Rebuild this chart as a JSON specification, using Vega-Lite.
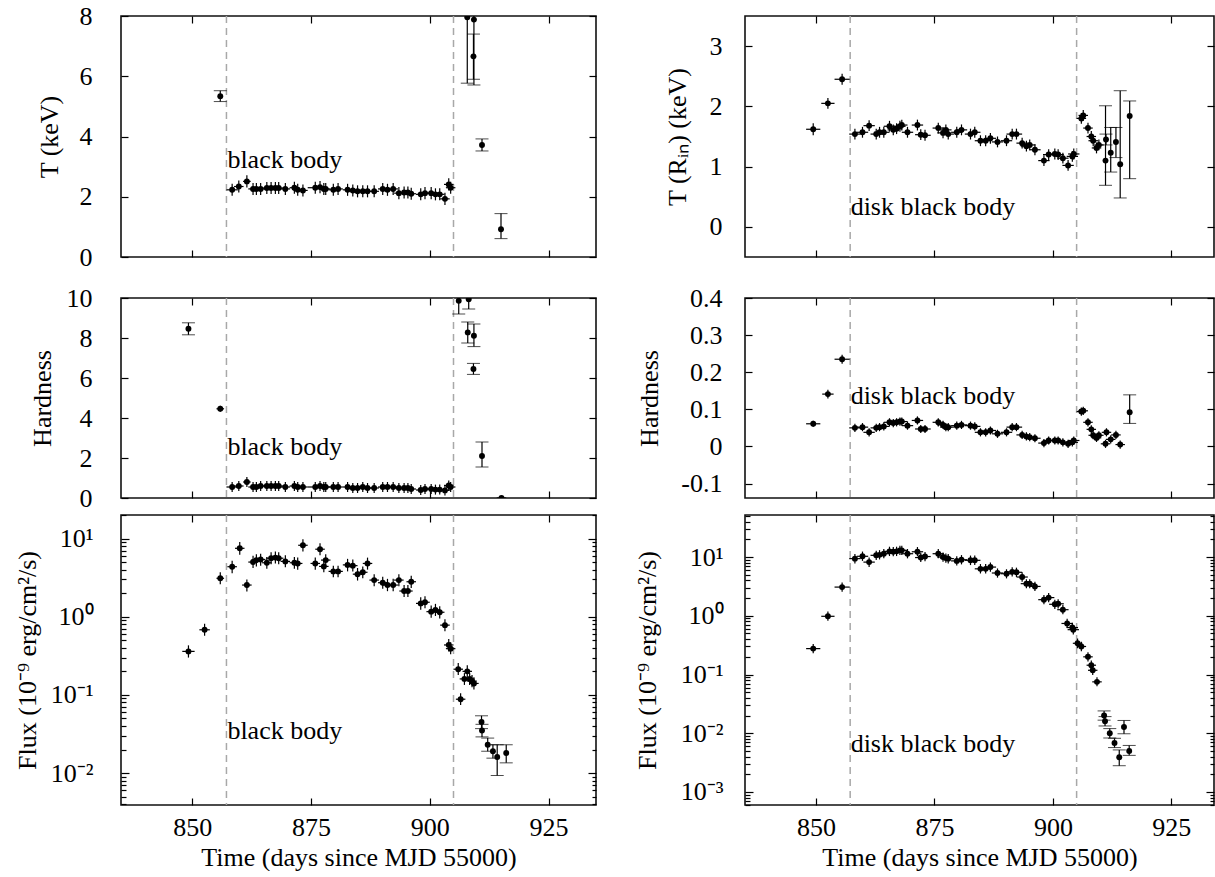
{
"$schema":"https://vega.github.io/schema/vega-lite/v6.json",
"padding":{"left":13,"top":2,"right":0,"bottom":0},
"config":{"font":"Liberation Serif","view":{"stroke":"#111","strokeWidth":1.6},
"axis":{"labelFont":"Liberation Serif","labelFontSize":26,"labelColor":"#000","titleFont":"Liberation Serif","titleFontSize":26,"titleFontWeight":"normal","titleColor":"#000","tickColor":"#000","tickWidth":1.2,"domain":false,"grid":false,"labelFlush":false,"labelOverlap":false},
"text":{"font":"Liberation Serif"}},
"datasets":{
"lt":[
{"t":855.9,"v":5.34,"lo":5.16,"hi":5.52,"dt":0,"c":1},
{"t":858.4,"v":2.23,"lo":2.03,"hi":2.43,"dt":1.2},
{"t":859.8,"v":2.34,"lo":2.14,"hi":2.54,"dt":1.0},
{"t":861.5,"v":2.51,"lo":2.31,"hi":2.71,"dt":0.8},
{"t":862.8,"v":2.26,"lo":2.06,"hi":2.46,"dt":1.0},
{"t":863.5,"v":2.26,"lo":2.06,"hi":2.46,"dt":1.0},
{"t":864.4,"v":2.26,"lo":2.06,"hi":2.46,"dt":1.0},
{"t":865.7,"v":2.29,"lo":2.09,"hi":2.49,"dt":1.0},
{"t":866.6,"v":2.29,"lo":2.09,"hi":2.49,"dt":1.0},
{"t":867.5,"v":2.29,"lo":2.09,"hi":2.49,"dt":1.0},
{"t":868.2,"v":2.29,"lo":2.09,"hi":2.49,"dt":1.0},
{"t":869.6,"v":2.26,"lo":2.06,"hi":2.46,"dt":1.0},
{"t":871.5,"v":2.30,"lo":2.10,"hi":2.50,"dt":1.0},
{"t":872.2,"v":2.23,"lo":2.03,"hi":2.43,"dt":1.0},
{"t":873.3,"v":2.21,"lo":2.01,"hi":2.41,"dt":1.0},
{"t":875.9,"v":2.30,"lo":2.10,"hi":2.50,"dt":1.6},
{"t":876.9,"v":2.32,"lo":2.12,"hi":2.52,"dt":1.0},
{"t":877.7,"v":2.26,"lo":2.06,"hi":2.46,"dt":1.0},
{"t":878.1,"v":2.26,"lo":2.06,"hi":2.46,"dt":1.0},
{"t":879.7,"v":2.23,"lo":2.03,"hi":2.43,"dt":1.0},
{"t":880.7,"v":2.26,"lo":2.06,"hi":2.46,"dt":1.0},
{"t":882.7,"v":2.23,"lo":2.03,"hi":2.43,"dt":1.0},
{"t":883.8,"v":2.21,"lo":2.01,"hi":2.41,"dt":1.0},
{"t":884.8,"v":2.18,"lo":1.98,"hi":2.38,"dt":1.0},
{"t":885.9,"v":2.18,"lo":1.98,"hi":2.38,"dt":1.0},
{"t":886.9,"v":2.18,"lo":1.98,"hi":2.38,"dt":1.0},
{"t":888.3,"v":2.18,"lo":1.98,"hi":2.38,"dt":1.0},
{"t":890.1,"v":2.26,"lo":2.06,"hi":2.46,"dt":1.0},
{"t":891.1,"v":2.23,"lo":2.03,"hi":2.43,"dt":1.0},
{"t":892.3,"v":2.26,"lo":2.06,"hi":2.46,"dt":1.0},
{"t":893.5,"v":2.12,"lo":1.92,"hi":2.32,"dt":1.0},
{"t":894.6,"v":2.14,"lo":1.94,"hi":2.34,"dt":1.0},
{"t":895.4,"v":2.14,"lo":1.94,"hi":2.34,"dt":1.0},
{"t":896.1,"v":2.10,"lo":1.90,"hi":2.30,"dt":1.0},
{"t":898.1,"v":2.08,"lo":1.88,"hi":2.28,"dt":1.0},
{"t":899.0,"v":2.12,"lo":1.92,"hi":2.32,"dt":1.0},
{"t":900.3,"v":2.12,"lo":1.92,"hi":2.32,"dt":1.0},
{"t":901.2,"v":2.08,"lo":1.88,"hi":2.28,"dt":1.0},
{"t":902.1,"v":2.08,"lo":1.88,"hi":2.28,"dt":1.0},
{"t":903.2,"v":1.93,"lo":1.73,"hi":2.13,"dt":1.0},
{"t":904.0,"v":2.41,"lo":2.21,"hi":2.61,"dt":1.0},
{"t":904.4,"v":2.30,"lo":2.10,"hi":2.50,"dt":1.0},
{"t":907.9,"v":7.96,"lo":5.77,"hi":10.1,"dt":0,"c":1},
{"t":909.2,"v":6.66,"lo":5.9,"hi":7.4,"dt":0,"c":1},
{"t":909.3,"v":7.88,"lo":5.71,"hi":10.0,"dt":0,"c":1},
{"t":911.0,"v":3.72,"lo":3.52,"hi":3.92,"dt":0,"c":1},
{"t":915.0,"v":0.92,"lo":0.61,"hi":1.44,"dt":0,"c":1}
],
"lh":[
{"t":849.2,"v":8.46,"lo":8.16,"hi":8.76,"dt":0,"c":1},
{"t":855.9,"v":4.46,"lo":4.31,"hi":4.61,"dt":0.8},
{"t":858.4,"v":0.55,"lo":0.3,"hi":0.8,"dt":1.2},
{"t":859.8,"v":0.6,"lo":0.35,"hi":0.85,"dt":1.0},
{"t":861.5,"v":0.8,"lo":0.55,"hi":1.05,"dt":0.8},
{"t":862.8,"v":0.55,"lo":0.3,"hi":0.8,"dt":1.0},
{"t":863.5,"v":0.55,"lo":0.3,"hi":0.8,"dt":1.0},
{"t":864.4,"v":0.6,"lo":0.35,"hi":0.85,"dt":1.0},
{"t":865.7,"v":0.6,"lo":0.35,"hi":0.85,"dt":1.0},
{"t":866.6,"v":0.6,"lo":0.35,"hi":0.85,"dt":1.0},
{"t":867.5,"v":0.6,"lo":0.35,"hi":0.85,"dt":1.0},
{"t":868.2,"v":0.6,"lo":0.35,"hi":0.85,"dt":1.0},
{"t":869.6,"v":0.55,"lo":0.3,"hi":0.8,"dt":1.0},
{"t":871.5,"v":0.6,"lo":0.35,"hi":0.85,"dt":1.0},
{"t":872.2,"v":0.55,"lo":0.3,"hi":0.8,"dt":1.0},
{"t":873.3,"v":0.55,"lo":0.3,"hi":0.8,"dt":1.0},
{"t":875.9,"v":0.55,"lo":0.3,"hi":0.8,"dt":1.6},
{"t":876.9,"v":0.6,"lo":0.35,"hi":0.85,"dt":1.0},
{"t":877.7,"v":0.55,"lo":0.3,"hi":0.8,"dt":1.0},
{"t":878.1,"v":0.55,"lo":0.3,"hi":0.8,"dt":1.0},
{"t":879.7,"v":0.55,"lo":0.3,"hi":0.8,"dt":1.0},
{"t":880.7,"v":0.55,"lo":0.3,"hi":0.8,"dt":1.0},
{"t":882.7,"v":0.55,"lo":0.3,"hi":0.8,"dt":1.0},
{"t":883.8,"v":0.5,"lo":0.25,"hi":0.75,"dt":1.0},
{"t":884.8,"v":0.5,"lo":0.25,"hi":0.75,"dt":1.0},
{"t":885.9,"v":0.55,"lo":0.3,"hi":0.8,"dt":1.0},
{"t":886.9,"v":0.5,"lo":0.25,"hi":0.75,"dt":1.0},
{"t":888.3,"v":0.5,"lo":0.25,"hi":0.75,"dt":1.0},
{"t":890.1,"v":0.55,"lo":0.3,"hi":0.8,"dt":1.0},
{"t":891.1,"v":0.55,"lo":0.3,"hi":0.8,"dt":1.0},
{"t":892.3,"v":0.55,"lo":0.3,"hi":0.8,"dt":1.0},
{"t":893.5,"v":0.5,"lo":0.25,"hi":0.75,"dt":1.0},
{"t":894.6,"v":0.5,"lo":0.25,"hi":0.75,"dt":1.0},
{"t":895.4,"v":0.5,"lo":0.25,"hi":0.75,"dt":1.0},
{"t":896.1,"v":0.45,"lo":0.2,"hi":0.7,"dt":1.0},
{"t":898.1,"v":0.4,"lo":0.15,"hi":0.65,"dt":1.0},
{"t":899.0,"v":0.45,"lo":0.2,"hi":0.7,"dt":1.0},
{"t":900.3,"v":0.45,"lo":0.2,"hi":0.7,"dt":1.0},
{"t":901.2,"v":0.42,"lo":0.17,"hi":0.67,"dt":1.0},
{"t":902.1,"v":0.42,"lo":0.17,"hi":0.67,"dt":1.0},
{"t":903.2,"v":0.38,"lo":0.13,"hi":0.63,"dt":1.0},
{"t":904.0,"v":0.63,"lo":0.38,"hi":0.88,"dt":1.0},
{"t":904.4,"v":0.55,"lo":0.3,"hi":0.8,"dt":1.0},
{"t":906.1,"v":9.86,"lo":9.2,"hi":10.5,"dt":0,"c":1},
{"t":908.0,"v":8.28,"lo":7.75,"hi":8.8,"dt":0,"c":1},
{"t":908.2,"v":9.94,"lo":9.45,"hi":10.4,"dt":0,"c":1},
{"t":909.2,"v":6.45,"lo":6.18,"hi":6.73,"dt":0,"c":1},
{"t":909.3,"v":8.11,"lo":7.57,"hi":8.7,"dt":0,"c":1},
{"t":911.0,"v":2.1,"lo":1.55,"hi":2.8,"dt":0,"c":1},
{"t":915.1,"v":0.0,"lo":-0.1,"hi":0.1,"dt":1.0}
],
"lf":[
{"t":849.2,"v":0.36,"lo":0.30,"hi":0.43,"dt":1.3},
{"t":852.6,"v":0.68,"lo":0.57,"hi":0.81,"dt":1.1},
{"t":855.9,"v":3.1,"lo":2.6,"hi":3.7,"dt":0.8},
{"t":858.4,"v":4.36,"lo":3.6,"hi":5.2,"dt":1.0},
{"t":860.0,"v":7.5,"lo":6.2,"hi":9.0,"dt":1.0},
{"t":861.5,"v":2.54,"lo":2.1,"hi":3.0,"dt":1.0},
{"t":862.8,"v":5.0,"lo":4.2,"hi":6.0,"dt":1.0},
{"t":863.5,"v":5.3,"lo":4.4,"hi":6.3,"dt":1.0},
{"t":864.4,"v":5.4,"lo":4.5,"hi":6.4,"dt":1.0},
{"t":865.7,"v":4.9,"lo":4.1,"hi":5.8,"dt":1.0},
{"t":866.6,"v":5.6,"lo":4.7,"hi":6.7,"dt":1.0},
{"t":867.5,"v":5.7,"lo":4.8,"hi":6.8,"dt":1.0},
{"t":868.2,"v":5.6,"lo":4.7,"hi":6.7,"dt":1.0},
{"t":869.6,"v":5.1,"lo":4.3,"hi":6.1,"dt":1.0},
{"t":871.5,"v":4.9,"lo":4.1,"hi":5.8,"dt":1.0},
{"t":872.2,"v":4.8,"lo":4.0,"hi":5.7,"dt":1.0},
{"t":873.3,"v":8.2,"lo":6.8,"hi":9.8,"dt":1.0},
{"t":875.9,"v":4.8,"lo":4.0,"hi":5.7,"dt":1.0},
{"t":876.9,"v":7.3,"lo":6.1,"hi":8.7,"dt":1.0},
{"t":877.7,"v":4.4,"lo":3.7,"hi":5.3,"dt":1.0},
{"t":878.1,"v":5.3,"lo":4.4,"hi":6.3,"dt":1.0},
{"t":879.7,"v":3.8,"lo":3.2,"hi":4.5,"dt":1.0},
{"t":880.7,"v":3.8,"lo":3.2,"hi":4.5,"dt":1.0},
{"t":882.7,"v":4.6,"lo":3.8,"hi":5.5,"dt":1.0},
{"t":883.8,"v":4.5,"lo":3.8,"hi":5.4,"dt":1.0},
{"t":884.8,"v":3.5,"lo":2.9,"hi":4.2,"dt":1.0},
{"t":885.9,"v":3.7,"lo":3.1,"hi":4.4,"dt":1.0},
{"t":886.9,"v":4.8,"lo":4.0,"hi":5.7,"dt":1.0},
{"t":888.3,"v":2.94,"lo":2.45,"hi":3.5,"dt":1.0},
{"t":890.1,"v":2.72,"lo":2.27,"hi":3.25,"dt":1.0},
{"t":891.1,"v":2.54,"lo":2.12,"hi":3.05,"dt":1.0},
{"t":892.3,"v":2.54,"lo":2.12,"hi":3.05,"dt":1.0},
{"t":893.5,"v":2.94,"lo":2.45,"hi":3.5,"dt":1.0},
{"t":894.6,"v":2.13,"lo":1.78,"hi":2.55,"dt":1.0},
{"t":895.4,"v":2.13,"lo":1.78,"hi":2.55,"dt":1.0},
{"t":896.1,"v":2.8,"lo":2.33,"hi":3.35,"dt":1.0},
{"t":898.1,"v":1.48,"lo":1.23,"hi":1.77,"dt":1.0},
{"t":899.0,"v":1.53,"lo":1.28,"hi":1.83,"dt":1.0},
{"t":900.3,"v":1.16,"lo":0.97,"hi":1.39,"dt":1.0},
{"t":901.2,"v":1.22,"lo":1.02,"hi":1.46,"dt":1.0},
{"t":902.1,"v":1.14,"lo":0.95,"hi":1.36,"dt":1.0},
{"t":903.2,"v":0.78,"lo":0.65,"hi":0.93,"dt":1.0},
{"t":904.0,"v":0.435,"lo":0.36,"hi":0.52,"dt":1.0},
{"t":904.4,"v":0.39,"lo":0.33,"hi":0.47,"dt":1.0},
{"t":906.0,"v":0.213,"lo":0.18,"hi":0.255,"dt":1.0},
{"t":906.5,"v":0.088,"lo":0.074,"hi":0.105,"dt":1.0},
{"t":907.3,"v":0.16,"lo":0.134,"hi":0.19,"dt":1.0},
{"t":907.9,"v":0.2,"lo":0.167,"hi":0.24,"dt":1.0},
{"t":908.4,"v":0.16,"lo":0.134,"hi":0.19,"dt":1.0},
{"t":908.9,"v":0.15,"lo":0.125,"hi":0.18,"dt":1.0},
{"t":909.3,"v":0.14,"lo":0.117,"hi":0.168,"dt":1.0},
{"t":910.9,"v":0.045,"lo":0.037,"hi":0.054,"dt":0,"c":1},
{"t":911.0,"v":0.035,"lo":0.029,"hi":0.042,"dt":0,"c":1},
{"t":912.2,"v":0.023,"lo":0.019,"hi":0.028,"dt":0,"c":1},
{"t":913.3,"v":0.019,"lo":0.0155,"hi":0.023,"dt":0,"c":1},
{"t":914.2,"v":0.016,"lo":0.0093,"hi":0.023,"dt":0,"c":1},
{"t":916.1,"v":0.018,"lo":0.0135,"hi":0.023,"dt":0,"c":1}
],
"rt":[
{"t":849.4,"v":1.62,"lo":1.52,"hi":1.72,"dt":1.5},
{"t":852.5,"v":2.05,"lo":1.96,"hi":2.14,"dt":1.4},
{"t":855.5,"v":2.45,"lo":2.36,"hi":2.54,"dt":1.6},
{"t":858.2,"v":1.54,"lo":1.45,"hi":1.63,"dt":1.2},
{"t":859.8,"v":1.57,"lo":1.48,"hi":1.66,"dt":1.2},
{"t":861.2,"v":1.68,"lo":1.59,"hi":1.77,"dt":1.2},
{"t":862.7,"v":1.54,"lo":1.45,"hi":1.63,"dt":1.2},
{"t":863.4,"v":1.57,"lo":1.48,"hi":1.66,"dt":1.2},
{"t":864.3,"v":1.57,"lo":1.48,"hi":1.66,"dt":1.2},
{"t":865.5,"v":1.67,"lo":1.58,"hi":1.76,"dt":1.2},
{"t":866.3,"v":1.61,"lo":1.52,"hi":1.70,"dt":1.2},
{"t":867.0,"v":1.63,"lo":1.54,"hi":1.72,"dt":1.2},
{"t":867.7,"v":1.67,"lo":1.58,"hi":1.76,"dt":1.2},
{"t":868.1,"v":1.69,"lo":1.60,"hi":1.78,"dt":1.2},
{"t":869.3,"v":1.57,"lo":1.48,"hi":1.66,"dt":1.2},
{"t":871.4,"v":1.69,"lo":1.60,"hi":1.78,"dt":1.2},
{"t":872.1,"v":1.53,"lo":1.44,"hi":1.62,"dt":1.2},
{"t":873.0,"v":1.52,"lo":1.43,"hi":1.61,"dt":1.2},
{"t":875.8,"v":1.64,"lo":1.55,"hi":1.73,"dt":1.2},
{"t":876.8,"v":1.56,"lo":1.47,"hi":1.65,"dt":1.2},
{"t":877.4,"v":1.61,"lo":1.52,"hi":1.70,"dt":1.2},
{"t":877.9,"v":1.54,"lo":1.45,"hi":1.63,"dt":1.2},
{"t":879.7,"v":1.57,"lo":1.48,"hi":1.66,"dt":1.2},
{"t":880.7,"v":1.61,"lo":1.52,"hi":1.70,"dt":1.2},
{"t":882.6,"v":1.54,"lo":1.45,"hi":1.63,"dt":1.2},
{"t":883.5,"v":1.57,"lo":1.48,"hi":1.66,"dt":1.2},
{"t":884.7,"v":1.43,"lo":1.34,"hi":1.52,"dt":1.2},
{"t":885.8,"v":1.43,"lo":1.34,"hi":1.52,"dt":1.2},
{"t":886.8,"v":1.47,"lo":1.38,"hi":1.56,"dt":1.2},
{"t":888.3,"v":1.41,"lo":1.32,"hi":1.50,"dt":1.2},
{"t":890.2,"v":1.43,"lo":1.34,"hi":1.52,"dt":1.2},
{"t":891.4,"v":1.54,"lo":1.45,"hi":1.63,"dt":1.2},
{"t":892.3,"v":1.54,"lo":1.45,"hi":1.63,"dt":1.2},
{"t":893.5,"v":1.39,"lo":1.30,"hi":1.48,"dt":1.2},
{"t":894.4,"v":1.34,"lo":1.25,"hi":1.43,"dt":1.2},
{"t":895.1,"v":1.36,"lo":1.27,"hi":1.45,"dt":1.2},
{"t":896.2,"v":1.28,"lo":1.19,"hi":1.37,"dt":1.2},
{"t":898.1,"v":1.10,"lo":1.01,"hi":1.19,"dt":1.2},
{"t":899.1,"v":1.20,"lo":1.11,"hi":1.29,"dt":1.2},
{"t":900.4,"v":1.21,"lo":1.12,"hi":1.30,"dt":1.2},
{"t":901.1,"v":1.20,"lo":1.11,"hi":1.29,"dt":1.2},
{"t":902.1,"v":1.14,"lo":1.05,"hi":1.23,"dt":1.2},
{"t":903.2,"v":1.02,"lo":0.93,"hi":1.11,"dt":1.2},
{"t":904.1,"v":1.17,"lo":1.08,"hi":1.26,"dt":1.2},
{"t":904.4,"v":1.21,"lo":1.12,"hi":1.30,"dt":1.2},
{"t":906.0,"v":1.80,"lo":1.71,"hi":1.89,"dt":1.0},
{"t":906.4,"v":1.85,"lo":1.76,"hi":1.94,"dt":1.0},
{"t":907.4,"v":1.64,"lo":1.55,"hi":1.73,"dt":1.0},
{"t":908.1,"v":1.50,"lo":1.41,"hi":1.59,"dt":1.0},
{"t":908.5,"v":1.43,"lo":1.34,"hi":1.52,"dt":1.0},
{"t":909.2,"v":1.31,"lo":1.22,"hi":1.40,"dt":1.0},
{"t":909.7,"v":1.36,"lo":1.27,"hi":1.45,"dt":1.0},
{"t":911.2,"v":1.45,"lo":1.36,"hi":1.54,"dt":0,"c":1},
{"t":911.1,"v":1.10,"lo":0.69,"hi":2.01,"dt":0,"c":1},
{"t":912.2,"v":1.23,"lo":0.91,"hi":1.65,"dt":0,"c":1},
{"t":913.3,"v":1.41,"lo":1.15,"hi":1.65,"dt":0,"c":1},
{"t":914.2,"v":1.04,"lo":0.48,"hi":2.26,"dt":0,"c":1},
{"t":916.2,"v":1.84,"lo":0.80,"hi":2.09,"dt":0,"c":1}
],
"rh":[
{"t":849.4,"v":0.061,"lo":0.053,"hi":0.069,"dt":1.5},
{"t":852.5,"v":0.141,"lo":0.129,"hi":0.153,"dt":1.2},
{"t":855.5,"v":0.235,"lo":0.223,"hi":0.247,"dt":1.6},
{"t":858.2,"v":0.050,"lo":0.039,"hi":0.061,"dt":1.2},
{"t":859.8,"v":0.052,"lo":0.041,"hi":0.063,"dt":1.2},
{"t":861.2,"v":0.038,"lo":0.027,"hi":0.049,"dt":1.2},
{"t":862.7,"v":0.050,"lo":0.039,"hi":0.061,"dt":1.2},
{"t":863.4,"v":0.052,"lo":0.041,"hi":0.063,"dt":1.2},
{"t":864.3,"v":0.054,"lo":0.043,"hi":0.065,"dt":1.2},
{"t":865.5,"v":0.065,"lo":0.054,"hi":0.076,"dt":1.2},
{"t":866.3,"v":0.063,"lo":0.052,"hi":0.074,"dt":1.2},
{"t":867.0,"v":0.065,"lo":0.054,"hi":0.076,"dt":1.2},
{"t":867.7,"v":0.067,"lo":0.056,"hi":0.078,"dt":1.2},
{"t":868.1,"v":0.067,"lo":0.056,"hi":0.078,"dt":1.2},
{"t":869.3,"v":0.056,"lo":0.045,"hi":0.067,"dt":1.2},
{"t":871.4,"v":0.070,"lo":0.059,"hi":0.081,"dt":1.2},
{"t":872.1,"v":0.047,"lo":0.036,"hi":0.058,"dt":1.2},
{"t":873.0,"v":0.047,"lo":0.036,"hi":0.058,"dt":1.2},
{"t":875.8,"v":0.065,"lo":0.054,"hi":0.076,"dt":1.2},
{"t":876.8,"v":0.058,"lo":0.047,"hi":0.069,"dt":1.2},
{"t":877.4,"v":0.052,"lo":0.041,"hi":0.063,"dt":1.2},
{"t":877.9,"v":0.052,"lo":0.041,"hi":0.063,"dt":1.2},
{"t":879.7,"v":0.056,"lo":0.045,"hi":0.067,"dt":1.2},
{"t":880.7,"v":0.058,"lo":0.047,"hi":0.069,"dt":1.2},
{"t":882.6,"v":0.056,"lo":0.045,"hi":0.067,"dt":1.2},
{"t":883.5,"v":0.054,"lo":0.043,"hi":0.065,"dt":1.2},
{"t":884.7,"v":0.038,"lo":0.027,"hi":0.049,"dt":1.2},
{"t":885.8,"v":0.038,"lo":0.027,"hi":0.049,"dt":1.2},
{"t":886.8,"v":0.043,"lo":0.032,"hi":0.054,"dt":1.2},
{"t":888.3,"v":0.034,"lo":0.023,"hi":0.045,"dt":1.2},
{"t":890.2,"v":0.038,"lo":0.027,"hi":0.049,"dt":1.2},
{"t":891.4,"v":0.052,"lo":0.041,"hi":0.063,"dt":1.2},
{"t":892.3,"v":0.052,"lo":0.041,"hi":0.063,"dt":1.2},
{"t":893.5,"v":0.031,"lo":0.020,"hi":0.042,"dt":1.2},
{"t":894.4,"v":0.027,"lo":0.016,"hi":0.038,"dt":1.2},
{"t":895.1,"v":0.025,"lo":0.014,"hi":0.036,"dt":1.2},
{"t":896.2,"v":0.022,"lo":0.011,"hi":0.033,"dt":1.2},
{"t":898.1,"v":0.009,"lo":-0.002,"hi":0.020,"dt":1.2},
{"t":899.1,"v":0.016,"lo":0.005,"hi":0.027,"dt":1.2},
{"t":900.4,"v":0.016,"lo":0.005,"hi":0.027,"dt":1.2},
{"t":901.1,"v":0.016,"lo":0.005,"hi":0.027,"dt":1.2},
{"t":902.1,"v":0.011,"lo":0.000,"hi":0.022,"dt":1.2},
{"t":903.2,"v":0.007,"lo":-0.004,"hi":0.018,"dt":1.2},
{"t":904.1,"v":0.011,"lo":0.000,"hi":0.022,"dt":1.2},
{"t":904.4,"v":0.016,"lo":0.005,"hi":0.027,"dt":1.2},
{"t":906.0,"v":0.094,"lo":0.083,"hi":0.105,"dt":1.0},
{"t":906.4,"v":0.096,"lo":0.085,"hi":0.107,"dt":1.0},
{"t":907.4,"v":0.065,"lo":0.054,"hi":0.076,"dt":1.0},
{"t":908.1,"v":0.046,"lo":0.035,"hi":0.057,"dt":1.0},
{"t":908.5,"v":0.030,"lo":0.019,"hi":0.041,"dt":1.0},
{"t":909.2,"v":0.023,"lo":0.012,"hi":0.034,"dt":1.0},
{"t":909.7,"v":0.030,"lo":0.019,"hi":0.041,"dt":1.0},
{"t":911.1,"v":0.007,"lo":-0.004,"hi":0.018,"dt":1.0},
{"t":911.3,"v":0.038,"lo":0.027,"hi":0.049,"dt":1.0},
{"t":912.2,"v":0.019,"lo":0.008,"hi":0.030,"dt":1.0},
{"t":913.3,"v":0.031,"lo":0.020,"hi":0.042,"dt":1.0},
{"t":914.2,"v":0.005,"lo":-0.006,"hi":0.016,"dt":1.0},
{"t":916.2,"v":0.092,"lo":0.062,"hi":0.139,"dt":0,"c":1}
],
"rf":[
{"t":849.4,"v":0.276,"lo":0.23,"hi":0.33,"dt":1.5},
{"t":852.5,"v":0.98,"lo":0.82,"hi":1.18,"dt":1.4},
{"t":855.5,"v":3.08,"lo":2.57,"hi":3.7,"dt":1.6},
{"t":858.2,"v":9.4,"lo":7.8,"hi":11.3,"dt":1.2},
{"t":859.8,"v":10.3,"lo":8.6,"hi":12.4,"dt":1.2},
{"t":861.2,"v":8.2,"lo":6.8,"hi":9.8,"dt":1.2},
{"t":862.7,"v":10.7,"lo":8.9,"hi":12.8,"dt":1.2},
{"t":863.4,"v":10.9,"lo":9.1,"hi":13.1,"dt":1.2},
{"t":864.3,"v":11.4,"lo":9.5,"hi":13.7,"dt":1.2},
{"t":865.5,"v":12.5,"lo":10.4,"hi":15.0,"dt":1.2},
{"t":866.3,"v":12.3,"lo":10.3,"hi":14.8,"dt":1.2},
{"t":867.0,"v":12.5,"lo":10.4,"hi":15.0,"dt":1.2},
{"t":867.7,"v":13.0,"lo":10.8,"hi":15.6,"dt":1.2},
{"t":868.1,"v":13.0,"lo":10.8,"hi":15.6,"dt":1.2},
{"t":869.3,"v":11.4,"lo":9.5,"hi":13.7,"dt":1.2},
{"t":871.4,"v":12.3,"lo":10.3,"hi":14.8,"dt":1.2},
{"t":872.1,"v":9.8,"lo":8.2,"hi":11.8,"dt":1.2},
{"t":873.0,"v":10.2,"lo":8.5,"hi":12.2,"dt":1.2},
{"t":875.8,"v":11.4,"lo":9.5,"hi":13.7,"dt":1.2},
{"t":876.8,"v":10.0,"lo":8.3,"hi":12.0,"dt":1.2},
{"t":877.4,"v":9.6,"lo":8.0,"hi":11.5,"dt":1.2},
{"t":877.9,"v":9.4,"lo":7.8,"hi":11.3,"dt":1.2},
{"t":879.7,"v":8.6,"lo":7.2,"hi":10.3,"dt":1.2},
{"t":880.7,"v":9.0,"lo":7.5,"hi":10.8,"dt":1.2},
{"t":882.6,"v":8.8,"lo":7.3,"hi":10.6,"dt":1.2},
{"t":883.5,"v":8.8,"lo":7.3,"hi":10.6,"dt":1.2},
{"t":884.7,"v":6.3,"lo":5.25,"hi":7.6,"dt":1.2},
{"t":885.8,"v":6.3,"lo":5.25,"hi":7.6,"dt":1.2},
{"t":886.8,"v":6.75,"lo":5.6,"hi":8.1,"dt":1.2},
{"t":888.3,"v":5.35,"lo":4.46,"hi":6.4,"dt":1.2},
{"t":890.2,"v":5.2,"lo":4.33,"hi":6.2,"dt":1.2},
{"t":891.4,"v":5.6,"lo":4.67,"hi":6.7,"dt":1.2},
{"t":892.3,"v":5.5,"lo":4.58,"hi":6.6,"dt":1.2},
{"t":893.5,"v":4.57,"lo":3.8,"hi":5.5,"dt":1.2},
{"t":894.4,"v":3.52,"lo":2.93,"hi":4.2,"dt":1.2},
{"t":895.1,"v":3.52,"lo":2.93,"hi":4.2,"dt":1.2},
{"t":896.2,"v":3.16,"lo":2.63,"hi":3.8,"dt":1.2},
{"t":898.1,"v":1.88,"lo":1.57,"hi":2.26,"dt":1.2},
{"t":899.1,"v":2.04,"lo":1.7,"hi":2.45,"dt":1.2},
{"t":900.4,"v":1.57,"lo":1.31,"hi":1.88,"dt":1.2},
{"t":901.1,"v":1.6,"lo":1.33,"hi":1.92,"dt":1.2},
{"t":902.1,"v":1.27,"lo":1.06,"hi":1.52,"dt":1.2},
{"t":903.0,"v":0.74,"lo":0.62,"hi":0.89,"dt":1.2},
{"t":904.1,"v":0.63,"lo":0.53,"hi":0.76,"dt":1.2},
{"t":904.3,"v":0.58,"lo":0.48,"hi":0.7,"dt":1.2},
{"t":905.2,"v":0.34,"lo":0.28,"hi":0.41,"dt":1.0},
{"t":906.0,"v":0.30,"lo":0.25,"hi":0.36,"dt":1.0},
{"t":907.4,"v":0.20,"lo":0.167,"hi":0.24,"dt":1.0},
{"t":908.1,"v":0.144,"lo":0.12,"hi":0.173,"dt":1.0},
{"t":908.4,"v":0.118,"lo":0.098,"hi":0.142,"dt":1.0},
{"t":909.3,"v":0.075,"lo":0.063,"hi":0.09,"dt":1.0},
{"t":910.8,"v":0.020,"lo":0.0167,"hi":0.024,"dt":0,"c":1},
{"t":911.0,"v":0.016,"lo":0.0133,"hi":0.0192,"dt":0,"c":1},
{"t":912.0,"v":0.010,"lo":0.0083,"hi":0.012,"dt":0,"c":1},
{"t":913.0,"v":0.0068,"lo":0.0057,"hi":0.0082,"dt":0,"c":1},
{"t":914.0,"v":0.0039,"lo":0.0028,"hi":0.0052,"dt":0,"c":1},
{"t":915.0,"v":0.0128,"lo":0.0098,"hi":0.0165,"dt":0,"c":1},
{"t":916.1,"v":0.005,"lo":0.0042,"hi":0.0062,"dt":0,"c":1}
]
},
"columns":2,
"spacing":{"row":17,"column":149},
"bounds":"flush",
"concat":[
{"width":475,"height":241,"resolve":{"axis":{"x":"independent","y":"independent"}},
"layer":[
{"layer":[
{"data":{"values":[{"d":857.2},{"d":905.0}]},"mark":{"type":"rule","color":"#a8a8a8","strokeDash":[7,5],"strokeWidth":1.5},
"encoding":{"x":{"field":"d","type":"quantitative","scale":{"domain":[835,935],"nice":false,"zero":false},"axis":{"orient":"bottom","values":[850,875,900,925],"tickCount":100,"labels":false,"title":null,"tickSize":-7}}}},
{"data":{"name":"lt"},"transform":[{"filter":"datum.c != 1"}],"mark":{"type":"errorbar","color":"black","clip":true,"ticks":false,"rule":{"strokeWidth":1.2}},
"encoding":{"x":{"field":"t","type":"quantitative","scale":{"domain":[835,935],"nice":false,"zero":false}},"y":{"field":"lo","type":"quantitative","title":"T (keV)","scale":{"domain":[0,8],"nice":false,"zero":false}},"y2":{"field":"hi"}}},
{"data":{"name":"lt"},"transform":[{"filter":"datum.c == 1"}],"mark":{"type":"errorbar","color":"black","clip":true,"ticks":{"size":13},"rule":{"strokeWidth":1.2}},
"encoding":{"x":{"field":"t","type":"quantitative","scale":{"domain":[835,935],"nice":false,"zero":false}},"y":{"field":"lo","type":"quantitative","title":"T (keV)","scale":{"domain":[0,8],"nice":false,"zero":false}},"y2":{"field":"hi"}}},
{"data":{"name":"lt"},"transform":[{"filter":"datum.c != 1"}],"mark":{"type":"errorbar","color":"black","clip":true,"ticks":false,"rule":{"strokeWidth":1.2}},
"encoding":{"x":{"field":"t","type":"quantitative","scale":{"domain":[835,935],"nice":false,"zero":false}},"xError":{"field":"dt"},"y":{"field":"v","type":"quantitative","title":"T (keV)","scale":{"domain":[0,8],"nice":false,"zero":false}}}},
{"data":{"name":"lt"},"mark":{"type":"circle","size":35,"color":"black","opacity":1,"clip":true},
"encoding":{"x":{"field":"t","type":"quantitative","scale":{"domain":[835,935],"nice":false,"zero":false}},"y":{"field":"v","type":"quantitative","title":"T (keV)","scale":{"domain":[0,8],"nice":false,"zero":false},"axis":{"orient":"left","values":[0,2,4,6,8],"tickCount":100,"format":"d","labelOverlap":false,"tickSize":-7,"labelPadding":36,"title":"T (keV)","titleX":-64,"titleBaseline":"alphabetic","titleAngle":270}}}},
{"data":{"values":[{"x":857.4,"y":2.97,"s":"black body"}]},"mark":{"type":"text","align":"left","baseline":"alphabetic","fontSize":26,"font":"Liberation Serif"},
"encoding":{"x":{"field":"x","type":"quantitative","scale":{"domain":[835,935],"nice":false,"zero":false}},"y":{"field":"y","type":"quantitative","title":"T (keV)","scale":{"domain":[0,8],"nice":false,"zero":false}},"text":{"field":"s"}}}
]},
{"data":{"name":"lt"},"mark":{"type":"point","opacity":0},
"encoding":{"x":{"field":"t","type":"quantitative","scale":{"domain":[835,935],"nice":false,"zero":false},"axis":{"orient":"top","values":[850,875,900,925],"tickCount":100,"labels":false,"title":null,"tickSize":-7}},
"y":{"field":"v","type":"quantitative","scale":{"domain":[0,8],"nice":false,"zero":false},"axis":{"orient":"right","values":[0,2,4,6,8],"tickCount":100,"labels":false,"title":null,"tickSize":-7}}}}
]},
{"width":469,"height":241,"resolve":{"axis":{"x":"independent","y":"independent"}},
"layer":[
{"layer":[
{"data":{"values":[{"d":857.2},{"d":905.0}]},"mark":{"type":"rule","color":"#a8a8a8","strokeDash":[7,5],"strokeWidth":1.5},
"encoding":{"x":{"field":"d","type":"quantitative","scale":{"domain":[835,934],"nice":false,"zero":false},"axis":{"orient":"bottom","values":[850,875,900,925],"tickCount":100,"labels":false,"title":null,"tickSize":-7}}}},
{"data":{"name":"rt"},"transform":[{"filter":"datum.c != 1"}],"mark":{"type":"errorbar","color":"black","clip":true,"ticks":false,"rule":{"strokeWidth":1.2}},
"encoding":{"x":{"field":"t","type":"quantitative","scale":{"domain":[835,934],"nice":false,"zero":false}},"y":{"field":"lo","type":"quantitative","title":"T (Rᵢₙ) (keV)","scale":{"domain":[-0.5,3.5],"nice":false,"zero":false}},"y2":{"field":"hi"}}},
{"data":{"name":"rt"},"transform":[{"filter":"datum.c == 1"}],"mark":{"type":"errorbar","color":"black","clip":true,"ticks":{"size":13},"rule":{"strokeWidth":1.2}},
"encoding":{"x":{"field":"t","type":"quantitative","scale":{"domain":[835,934],"nice":false,"zero":false}},"y":{"field":"lo","type":"quantitative","title":"T (Rᵢₙ) (keV)","scale":{"domain":[-0.5,3.5],"nice":false,"zero":false}},"y2":{"field":"hi"}}},
{"data":{"name":"rt"},"transform":[{"filter":"datum.c != 1"}],"mark":{"type":"errorbar","color":"black","clip":true,"ticks":false,"rule":{"strokeWidth":1.2}},
"encoding":{"x":{"field":"t","type":"quantitative","scale":{"domain":[835,934],"nice":false,"zero":false}},"xError":{"field":"dt"},"y":{"field":"v","type":"quantitative","title":"T (Rᵢₙ) (keV)","scale":{"domain":[-0.5,3.5],"nice":false,"zero":false}}}},
{"data":{"name":"rt"},"mark":{"type":"circle","size":35,"color":"black","opacity":1,"clip":true},
"encoding":{"x":{"field":"t","type":"quantitative","scale":{"domain":[835,934],"nice":false,"zero":false}},"y":{"field":"v","type":"quantitative","title":"T (Rᵢₙ) (keV)","scale":{"domain":[-0.5,3.5],"nice":false,"zero":false},"axis":{"orient":"left","values":[0,1,2,3],"tickCount":100,"format":"d","labelOverlap":false,"tickSize":-7,"labelPadding":30,"title":"T (Rᵢₙ) (keV)","titleX":-60,"titleBaseline":"alphabetic","titleAngle":270}}}},
{"data":{"values":[{"x":857.3,"y":0.2,"s":"disk black body"}]},"mark":{"type":"text","align":"left","baseline":"alphabetic","fontSize":26,"font":"Liberation Serif"},
"encoding":{"x":{"field":"x","type":"quantitative","scale":{"domain":[835,934],"nice":false,"zero":false}},"y":{"field":"y","type":"quantitative","title":"T (Rᵢₙ) (keV)","scale":{"domain":[-0.5,3.5],"nice":false,"zero":false}},"text":{"field":"s"}}}
]},
{"data":{"name":"rt"},"mark":{"type":"point","opacity":0},
"encoding":{"x":{"field":"t","type":"quantitative","scale":{"domain":[835,934],"nice":false,"zero":false},"axis":{"orient":"top","values":[850,875,900,925],"tickCount":100,"labels":false,"title":null,"tickSize":-7}},
"y":{"field":"v","type":"quantitative","scale":{"domain":[-0.5,3.5],"nice":false,"zero":false},"axis":{"orient":"right","values":[0,1,2,3],"tickCount":100,"labels":false,"title":null,"tickSize":-7}}}}
]},
{"width":475,"height":7,"view":{"stroke":null},"data":{"values":[{"a":1}]},"mark":{"type":"point","opacity":0},"encoding":{}},
{"width":469,"height":7,"view":{"stroke":null},"data":{"values":[{"a":1}]},"mark":{"type":"point","opacity":0},"encoding":{}},
{"width":475,"height":200,"resolve":{"axis":{"x":"independent","y":"independent"}},
"layer":[
{"layer":[
{"data":{"values":[{"d":857.2},{"d":905.0}]},"mark":{"type":"rule","color":"#a8a8a8","strokeDash":[7,5],"strokeWidth":1.5},
"encoding":{"x":{"field":"d","type":"quantitative","scale":{"domain":[835,935],"nice":false,"zero":false},"axis":{"orient":"bottom","values":[850,875,900,925],"tickCount":100,"labels":false,"title":null,"tickSize":-7}}}},
{"data":{"name":"lh"},"transform":[{"filter":"datum.c != 1"}],"mark":{"type":"errorbar","color":"black","clip":true,"ticks":false,"rule":{"strokeWidth":1.2}},
"encoding":{"x":{"field":"t","type":"quantitative","scale":{"domain":[835,935],"nice":false,"zero":false}},"y":{"field":"lo","type":"quantitative","title":"Hardness","scale":{"domain":[0,10],"nice":false,"zero":false}},"y2":{"field":"hi"}}},
{"data":{"name":"lh"},"transform":[{"filter":"datum.c == 1"}],"mark":{"type":"errorbar","color":"black","clip":true,"ticks":{"size":13},"rule":{"strokeWidth":1.2}},
"encoding":{"x":{"field":"t","type":"quantitative","scale":{"domain":[835,935],"nice":false,"zero":false}},"y":{"field":"lo","type":"quantitative","title":"Hardness","scale":{"domain":[0,10],"nice":false,"zero":false}},"y2":{"field":"hi"}}},
{"data":{"name":"lh"},"transform":[{"filter":"datum.c != 1"}],"mark":{"type":"errorbar","color":"black","clip":true,"ticks":false,"rule":{"strokeWidth":1.2}},
"encoding":{"x":{"field":"t","type":"quantitative","scale":{"domain":[835,935],"nice":false,"zero":false}},"xError":{"field":"dt"},"y":{"field":"v","type":"quantitative","title":"Hardness","scale":{"domain":[0,10],"nice":false,"zero":false}}}},
{"data":{"name":"lh"},"mark":{"type":"circle","size":35,"color":"black","opacity":1,"clip":true},
"encoding":{"x":{"field":"t","type":"quantitative","scale":{"domain":[835,935],"nice":false,"zero":false}},"y":{"field":"v","type":"quantitative","title":"Hardness","scale":{"domain":[0,10],"nice":false,"zero":false},"axis":{"orient":"left","values":[0,2,4,6,8,10],"tickCount":100,"format":"d","labelOverlap":false,"tickSize":-7,"labelPadding":36,"title":"Hardness","titleX":-71,"titleBaseline":"alphabetic","titleAngle":270}}}},
{"data":{"values":[{"x":857.4,"y":2.13,"s":"black body"}]},"mark":{"type":"text","align":"left","baseline":"alphabetic","fontSize":26,"font":"Liberation Serif"},
"encoding":{"x":{"field":"x","type":"quantitative","scale":{"domain":[835,935],"nice":false,"zero":false}},"y":{"field":"y","type":"quantitative","title":"Hardness","scale":{"domain":[0,10],"nice":false,"zero":false}},"text":{"field":"s"}}}
]},
{"data":{"name":"lh"},"mark":{"type":"point","opacity":0},
"encoding":{"x":{"field":"t","type":"quantitative","scale":{"domain":[835,935],"nice":false,"zero":false},"axis":{"orient":"top","values":[850,875,900,925],"tickCount":100,"labels":false,"title":null,"tickSize":-7}},
"y":{"field":"v","type":"quantitative","scale":{"domain":[0,10],"nice":false,"zero":false},"axis":{"orient":"right","values":[0,2,4,6,8,10],"tickCount":100,"labels":false,"title":null,"tickSize":-7}}}}
]},
{"width":469,"height":200,"resolve":{"axis":{"x":"independent","y":"independent"}},
"layer":[
{"layer":[
{"data":{"values":[{"d":857.2},{"d":905.0}]},"mark":{"type":"rule","color":"#a8a8a8","strokeDash":[7,5],"strokeWidth":1.5},
"encoding":{"x":{"field":"d","type":"quantitative","scale":{"domain":[835,934],"nice":false,"zero":false},"axis":{"orient":"bottom","values":[850,875,900,925],"tickCount":100,"labels":false,"title":null,"tickSize":-7}}}},
{"data":{"name":"rh"},"transform":[{"filter":"datum.c != 1"}],"mark":{"type":"errorbar","color":"black","clip":true,"ticks":false,"rule":{"strokeWidth":1.2}},
"encoding":{"x":{"field":"t","type":"quantitative","scale":{"domain":[835,934],"nice":false,"zero":false}},"y":{"field":"lo","type":"quantitative","title":"Hardness","scale":{"domain":[-0.139,0.4],"nice":false,"zero":false}},"y2":{"field":"hi"}}},
{"data":{"name":"rh"},"transform":[{"filter":"datum.c == 1"}],"mark":{"type":"errorbar","color":"black","clip":true,"ticks":{"size":13},"rule":{"strokeWidth":1.2}},
"encoding":{"x":{"field":"t","type":"quantitative","scale":{"domain":[835,934],"nice":false,"zero":false}},"y":{"field":"lo","type":"quantitative","title":"Hardness","scale":{"domain":[-0.139,0.4],"nice":false,"zero":false}},"y2":{"field":"hi"}}},
{"data":{"name":"rh"},"transform":[{"filter":"datum.c != 1"}],"mark":{"type":"errorbar","color":"black","clip":true,"ticks":false,"rule":{"strokeWidth":1.2}},
"encoding":{"x":{"field":"t","type":"quantitative","scale":{"domain":[835,934],"nice":false,"zero":false}},"xError":{"field":"dt"},"y":{"field":"v","type":"quantitative","title":"Hardness","scale":{"domain":[-0.139,0.4],"nice":false,"zero":false}}}},
{"data":{"name":"rh"},"mark":{"type":"circle","size":35,"color":"black","opacity":1,"clip":true},
"encoding":{"x":{"field":"t","type":"quantitative","scale":{"domain":[835,934],"nice":false,"zero":false}},"y":{"field":"v","type":"quantitative","title":"Hardness","scale":{"domain":[-0.139,0.4],"nice":false,"zero":false},"axis":{"orient":"left","values":[-0.1,0,0.1,0.2,0.3,0.4],"tickCount":100,"labelOverlap":false,"labelExpr":"datum.value == 0 ? '0' : (datum.value < 0 ? '-' + format(-datum.value, '.1f') : format(datum.value, '.1f'))","tickSize":-7,"labelPadding":30,"title":"Hardness","titleX":-88,"titleBaseline":"alphabetic","titleAngle":270}}}},
{"data":{"values":[{"x":857.3,"y":0.113,"s":"disk black body"}]},"mark":{"type":"text","align":"left","baseline":"alphabetic","fontSize":26,"font":"Liberation Serif"},
"encoding":{"x":{"field":"x","type":"quantitative","scale":{"domain":[835,934],"nice":false,"zero":false}},"y":{"field":"y","type":"quantitative","title":"Hardness","scale":{"domain":[-0.139,0.4],"nice":false,"zero":false}},"text":{"field":"s"}}}
]},
{"data":{"name":"rh"},"mark":{"type":"point","opacity":0},
"encoding":{"x":{"field":"t","type":"quantitative","scale":{"domain":[835,934],"nice":false,"zero":false},"axis":{"orient":"top","values":[850,875,900,925],"tickCount":100,"labels":false,"title":null,"tickSize":-7}},
"y":{"field":"v","type":"quantitative","scale":{"domain":[-0.139,0.4],"nice":false,"zero":false},"axis":{"orient":"right","values":[-0.1,0,0.1,0.2,0.3,0.4],"tickCount":100,"labels":false,"title":null,"tickSize":-7}}}}
]},
{"width":475,"height":290,"resolve":{"axis":{"x":"independent","y":"independent"}},
"layer":[
{"layer":[
{"data":{"values":[{"d":857.2},{"d":905.0}]},"mark":{"type":"rule","color":"#a8a8a8","strokeDash":[7,5],"strokeWidth":1.5},
"encoding":{"x":{"field":"d","type":"quantitative","scale":{"domain":[835,935],"nice":false,"zero":false},"axis":{"orient":"bottom","values":[850,875,900,925],"tickCount":100,"tickSize":-7,"labelPadding":16,"title":"Time (days since MJD 55000)","titlePadding":4}}}},
{"data":{"name":"lf"},"transform":[{"filter":"datum.c != 1"}],"mark":{"type":"errorbar","color":"black","clip":true,"ticks":false,"rule":{"strokeWidth":1.2}},
"encoding":{"x":{"field":"t","type":"quantitative","title":"Time (days since MJD 55000)","scale":{"domain":[835,935],"nice":false,"zero":false}},"y":{"field":"lo","type":"quantitative","title":"Flux (10⁻⁹ erg/cm²/s)","scale":{"type":"log","domain":[0.0039,20],"nice":false}},"y2":{"field":"hi"}}},
{"data":{"name":"lf"},"transform":[{"filter":"datum.c == 1"}],"mark":{"type":"errorbar","color":"black","clip":true,"ticks":{"size":13},"rule":{"strokeWidth":1.2}},
"encoding":{"x":{"field":"t","type":"quantitative","title":"Time (days since MJD 55000)","scale":{"domain":[835,935],"nice":false,"zero":false}},"y":{"field":"lo","type":"quantitative","title":"Flux (10⁻⁹ erg/cm²/s)","scale":{"type":"log","domain":[0.0039,20],"nice":false}},"y2":{"field":"hi"}}},
{"data":{"name":"lf"},"transform":[{"filter":"datum.c != 1"}],"mark":{"type":"errorbar","color":"black","clip":true,"ticks":false,"rule":{"strokeWidth":1.2}},
"encoding":{"x":{"field":"t","type":"quantitative","title":"Time (days since MJD 55000)","scale":{"domain":[835,935],"nice":false,"zero":false}},"xError":{"field":"dt"},"y":{"field":"v","type":"quantitative","title":"Flux (10⁻⁹ erg/cm²/s)","scale":{"type":"log","domain":[0.0039,20],"nice":false}}}},
{"data":{"name":"lf"},"mark":{"type":"circle","size":35,"color":"black","opacity":1,"clip":true},
"encoding":{"x":{"field":"t","type":"quantitative","title":"Time (days since MJD 55000)","scale":{"domain":[835,935],"nice":false,"zero":false}},"y":{"field":"v","type":"quantitative","title":"Flux (10⁻⁹ erg/cm²/s)","scale":{"type":"log","domain":[0.0039,20],"nice":false},"axis":{"orient":"left","values":[0.004,0.005,0.006,0.007,0.008,0.009,0.01,0.02,0.03,0.04,0.05,0.06,0.07,0.08,0.09,0.1,0.2,0.3,0.4,0.5,0.6,0.7,0.8,0.9,1,2,3,4,5,6,7,8,9,10,20],"tickCount":100,"labelOverlap":false,"labelExpr":"abs(log(datum.value)/LN10-round(log(datum.value)/LN10))<0.01 ? ['10⁻³','10⁻²','10⁻¹','10⁰','10¹'][round(log(datum.value)/LN10)+3] : ''","tickSize":{"condition":{"test":"abs(log(datum.value)/LN10-round(log(datum.value)/LN10))<0.01","value":-8},"value":-5},"labelPadding":36,"title":"Flux (10⁻⁹ erg/cm²/s)","titleX":-86,"titleBaseline":"alphabetic","titleAngle":270}}}},
{"data":{"values":[{"x":857.4,"y":0.0272,"s":"black body"}]},"mark":{"type":"text","align":"left","baseline":"alphabetic","fontSize":26,"font":"Liberation Serif"},
"encoding":{"x":{"field":"x","type":"quantitative","title":"Time (days since MJD 55000)","scale":{"domain":[835,935],"nice":false,"zero":false}},"y":{"field":"y","type":"quantitative","title":"Flux (10⁻⁹ erg/cm²/s)","scale":{"type":"log","domain":[0.0039,20],"nice":false}},"text":{"field":"s"}}}
]},
{"data":{"name":"lf"},"mark":{"type":"point","opacity":0},
"encoding":{"x":{"field":"t","type":"quantitative","scale":{"domain":[835,935],"nice":false,"zero":false},"axis":{"orient":"top","values":[850,875,900,925],"tickCount":100,"labels":false,"title":null,"tickSize":-7}},
"y":{"field":"v","type":"quantitative","scale":{"type":"log","domain":[0.0039,20],"nice":false},"axis":{"orient":"right","values":[0.004,0.005,0.006,0.007,0.008,0.009,0.01,0.02,0.03,0.04,0.05,0.06,0.07,0.08,0.09,0.1,0.2,0.3,0.4,0.5,0.6,0.7,0.8,0.9,1,2,3,4,5,6,7,8,9,10,20],"tickCount":100,"labels":false,"title":null,"tickSize":{"condition":{"test":"abs(log(datum.value)/LN10-round(log(datum.value)/LN10))<0.01","value":-8},"value":-4}}}}}
]},
{"width":469,"height":290,"resolve":{"axis":{"x":"independent","y":"independent"}},
"layer":[
{"layer":[
{"data":{"values":[{"d":857.2},{"d":905.0}]},"mark":{"type":"rule","color":"#a8a8a8","strokeDash":[7,5],"strokeWidth":1.5},
"encoding":{"x":{"field":"d","type":"quantitative","scale":{"domain":[835,934],"nice":false,"zero":false},"axis":{"orient":"bottom","values":[850,875,900,925],"tickCount":100,"tickSize":-7,"labelPadding":16,"title":"Time (days since MJD 55000)","titlePadding":4}}}},
{"data":{"name":"rf"},"transform":[{"filter":"datum.c != 1"}],"mark":{"type":"errorbar","color":"black","clip":true,"ticks":false,"rule":{"strokeWidth":1.2}},
"encoding":{"x":{"field":"t","type":"quantitative","title":"Time (days since MJD 55000)","scale":{"domain":[835,934],"nice":false,"zero":false}},"y":{"field":"lo","type":"quantitative","title":"Flux (10⁻⁹ erg/cm²/s)","scale":{"type":"log","domain":[0.0006,52],"nice":false}},"y2":{"field":"hi"}}},
{"data":{"name":"rf"},"transform":[{"filter":"datum.c == 1"}],"mark":{"type":"errorbar","color":"black","clip":true,"ticks":{"size":13},"rule":{"strokeWidth":1.2}},
"encoding":{"x":{"field":"t","type":"quantitative","title":"Time (days since MJD 55000)","scale":{"domain":[835,934],"nice":false,"zero":false}},"y":{"field":"lo","type":"quantitative","title":"Flux (10⁻⁹ erg/cm²/s)","scale":{"type":"log","domain":[0.0006,52],"nice":false}},"y2":{"field":"hi"}}},
{"data":{"name":"rf"},"transform":[{"filter":"datum.c != 1"}],"mark":{"type":"errorbar","color":"black","clip":true,"ticks":false,"rule":{"strokeWidth":1.2}},
"encoding":{"x":{"field":"t","type":"quantitative","title":"Time (days since MJD 55000)","scale":{"domain":[835,934],"nice":false,"zero":false}},"xError":{"field":"dt"},"y":{"field":"v","type":"quantitative","title":"Flux (10⁻⁹ erg/cm²/s)","scale":{"type":"log","domain":[0.0006,52],"nice":false}}}},
{"data":{"name":"rf"},"mark":{"type":"circle","size":35,"color":"black","opacity":1,"clip":true},
"encoding":{"x":{"field":"t","type":"quantitative","title":"Time (days since MJD 55000)","scale":{"domain":[835,934],"nice":false,"zero":false}},"y":{"field":"v","type":"quantitative","title":"Flux (10⁻⁹ erg/cm²/s)","scale":{"type":"log","domain":[0.0006,52],"nice":false},"axis":{"orient":"left","values":[0.0006,0.0007,0.0008,0.0009,0.001,0.002,0.003,0.004,0.005,0.006,0.007,0.008,0.009,0.01,0.02,0.03,0.04,0.05,0.06,0.07,0.08,0.09,0.1,0.2,0.3,0.4,0.5,0.6,0.7,0.8,0.9,1,2,3,4,5,6,7,8,9,10,20,30,40,50],"tickCount":100,"labelOverlap":false,"labelExpr":"abs(log(datum.value)/LN10-round(log(datum.value)/LN10))<0.01 ? ['10⁻³','10⁻²','10⁻¹','10⁰','10¹'][round(log(datum.value)/LN10)+3] : ''","tickSize":{"condition":{"test":"abs(log(datum.value)/LN10-round(log(datum.value)/LN10))<0.01","value":-8},"value":-5},"labelPadding":30,"title":"Flux (10⁻⁹ erg/cm²/s)","titleX":-90,"titleBaseline":"alphabetic","titleAngle":270}}}},
{"data":{"values":[{"x":857.3,"y":0.0048,"s":"disk black body"}]},"mark":{"type":"text","align":"left","baseline":"alphabetic","fontSize":26,"font":"Liberation Serif"},
"encoding":{"x":{"field":"x","type":"quantitative","title":"Time (days since MJD 55000)","scale":{"domain":[835,934],"nice":false,"zero":false}},"y":{"field":"y","type":"quantitative","title":"Flux (10⁻⁹ erg/cm²/s)","scale":{"type":"log","domain":[0.0006,52],"nice":false}},"text":{"field":"s"}}}
]},
{"data":{"name":"rf"},"mark":{"type":"point","opacity":0},
"encoding":{"x":{"field":"t","type":"quantitative","scale":{"domain":[835,934],"nice":false,"zero":false},"axis":{"orient":"top","values":[850,875,900,925],"tickCount":100,"labels":false,"title":null,"tickSize":-7}},
"y":{"field":"v","type":"quantitative","scale":{"type":"log","domain":[0.0006,52],"nice":false},"axis":{"orient":"right","values":[0.0006,0.0007,0.0008,0.0009,0.001,0.002,0.003,0.004,0.005,0.006,0.007,0.008,0.009,0.01,0.02,0.03,0.04,0.05,0.06,0.07,0.08,0.09,0.1,0.2,0.3,0.4,0.5,0.6,0.7,0.8,0.9,1,2,3,4,5,6,7,8,9,10,20,30,40,50],"tickCount":100,"labels":false,"title":null,"tickSize":{"condition":{"test":"abs(log(datum.value)/LN10-round(log(datum.value)/LN10))<0.01","value":-8},"value":-4}}}}}
]}
]
}
